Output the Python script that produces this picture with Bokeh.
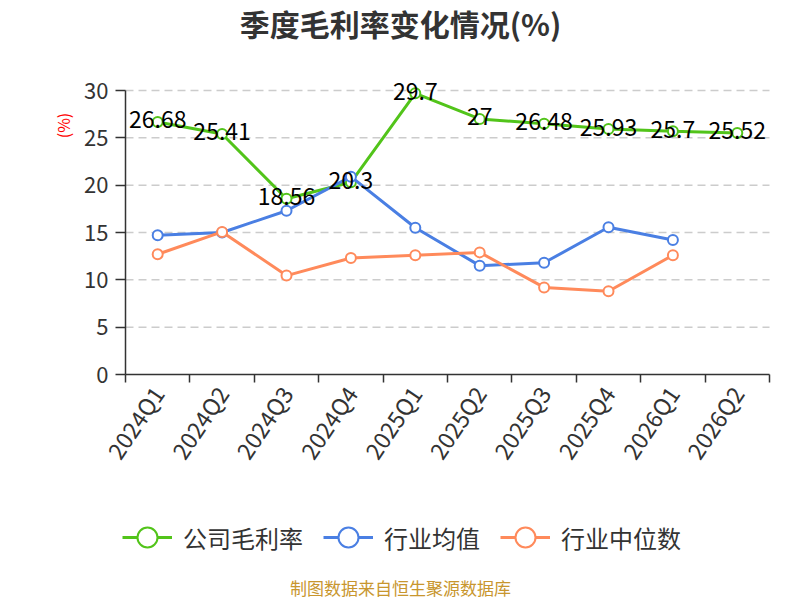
import math
from bokeh.plotting import figure
from bokeh.models import (Range1d, FixedTicker, Label, Legend, LegendItem,
                          ColumnDataSource)
from bokeh.core.properties import value
from bokeh.embed import file_html
from bokeh.resources import INLINE

quarters = ["2024Q1", "2024Q2", "2024Q3", "2024Q4", "2025Q1",
            "2025Q2", "2025Q3", "2025Q4", "2026Q1", "2026Q2"]
company = [26.68, 25.41, 18.56, 20.3, 29.7, 27, 26.48, 25.93, 25.7, 25.52]
industry_avg = [14.7, 15.0, 17.3, 20.9, 15.5, 11.5, 11.8, 15.55, 14.2]
industry_median = [12.7, 15.06, 10.45, 12.3, 12.6, 12.9, 9.2, 8.8, 12.6]
y_ticks = [0, 5, 10, 15, 20, 25, 30]

series_names = ["公司毛利率", "行业均值", "行业中位数"]
colors = ["#52C41A", "#4A7FE3", "#FF8A5B"]
FONT = "Noto Sans CJK SC"

W, H = 800, 600
# plot area in canvas pixels
FL, FR, FT, FB = 125, 769, 90, 374
n = len(quarters)
ymax = y_ticks[-1]
sx = (FR - FL) / n
sy = (FB - FT) / ymax

p = figure(width=W, height=H, output_backend="svg", toolbar_location=None,
           x_range=Range1d(-FL / sx, n + (W - FR) / sx),
           y_range=Range1d(-(H - FB) / sy, ymax + FT / sy),
           min_border=0, min_border_left=0, min_border_right=0,
           min_border_top=0, min_border_bottom=0)
p.outline_line_color = None
p.background_fill_color = "white"
p.border_fill_color = "white"
p.xgrid.visible = False
p.ygrid.visible = False

# grid lines (dashed) across the category span
grid_src = ColumnDataSource(dict(y=y_ticks[1:]))
p.segment(x0=0, x1=n, y0="y", y1="y", source=grid_src,
          line_color="#cccccc", line_width=1.5, line_dash="8 5")

# y axis
p.yaxis.fixed_location = 0
p.yaxis.bounds = (0, ymax)
p.yaxis.ticker = FixedTicker(ticks=y_ticks)
p.yaxis.axis_line_color = "#333333"
p.yaxis.axis_line_width = 1.5
p.yaxis.major_tick_line_color = "#333333"
p.yaxis.major_tick_line_width = 1.5
p.yaxis.major_tick_out = 10
p.yaxis.major_tick_in = 0
p.yaxis.minor_tick_line_color = None
p.yaxis.major_label_standoff = 7
p.yaxis.major_label_text_font = FONT
p.yaxis.major_label_text_font_size = "22px"
p.yaxis.major_label_text_color = "#333333"

# x axis
centers = [i + 0.5 for i in range(n)]
p.xaxis.fixed_location = 0
p.xaxis.bounds = (0, n)
p.xaxis.ticker = FixedTicker(ticks=centers, minor_ticks=list(range(n + 1)))
p.xaxis.major_label_overrides = {c: q for c, q in zip(centers, quarters)}
p.xaxis.axis_line_color = "#333333"
p.xaxis.axis_line_width = 1.5
p.xaxis.major_tick_line_color = None
p.xaxis.major_tick_out = 8
p.xaxis.minor_tick_line_color = "#333333"
p.xaxis.minor_tick_line_width = 1.5
p.xaxis.minor_tick_out = 8
p.xaxis.minor_tick_in = 0
p.xaxis.major_label_orientation = math.radians(56)
p.xaxis.major_label_standoff = 6
p.xaxis.major_label_text_font = FONT
p.xaxis.major_label_text_font_size = "23px"
p.xaxis.major_label_text_color = "#333333"

all_series = [company, industry_avg, industry_median]
items = []
for name, vals, col in zip(series_names, all_series, colors):
    src = ColumnDataSource(dict(x=centers[:len(vals)], y=vals))
    ln = p.line("x", "y", source=src, line_color=col, line_width=3)
    sc = p.scatter("x", "y", source=src, size=10, marker="circle",
                   fill_color="white", line_color=col, line_width=2)
    items.append(LegendItem(label=name, renderers=[ln, sc]))

# data labels for company
lab_src = ColumnDataSource(dict(x=centers, y=company,
                                t=[f"{v:g}" for v in company]))
p.text("x", "y", text="t", source=lab_src, text_align="center",
       text_baseline="middle", y_offset=-2, text_color="#000000",
       text_font=value(FONT), text_font_size="23px")

legend = Legend(items=items, orientation="horizontal", location=(122, H - 562),
                glyph_width=50, glyph_height=50, label_standoff=11, spacing=20,
                padding=0, margin=0, border_line_color=None,
                background_fill_alpha=0, label_text_font=FONT,
                label_text_font_size="24px", label_text_color="#333333")
p.add_layout(legend, "center")

p.add_layout(Label(x=400, y=H - 22, x_units="screen", y_units="screen",
                   text="季度毛利率变化情况(%)", text_align="center",
                   text_baseline="middle", text_font=FONT,
                   text_font_size="30px", text_font_style="bold",
                   text_color="#333333"))
p.add_layout(Label(x=62, y=H - 125, x_units="screen", y_units="screen",
                   text="(%)", angle=math.pi / 2, text_align="center",
                   text_baseline="middle", text_font=FONT,
                   text_font_size="16px", text_color="#ff0000"))
p.add_layout(Label(x=400, y=H - 587, x_units="screen", y_units="screen",
                   text="制图数据来自恒生聚源数据库", text_align="center",
                   text_baseline="middle", text_font=FONT,
                   text_font_size="17px", text_color="#C8962E"))

open("out.html", "w").write(file_html(p, INLINE))
